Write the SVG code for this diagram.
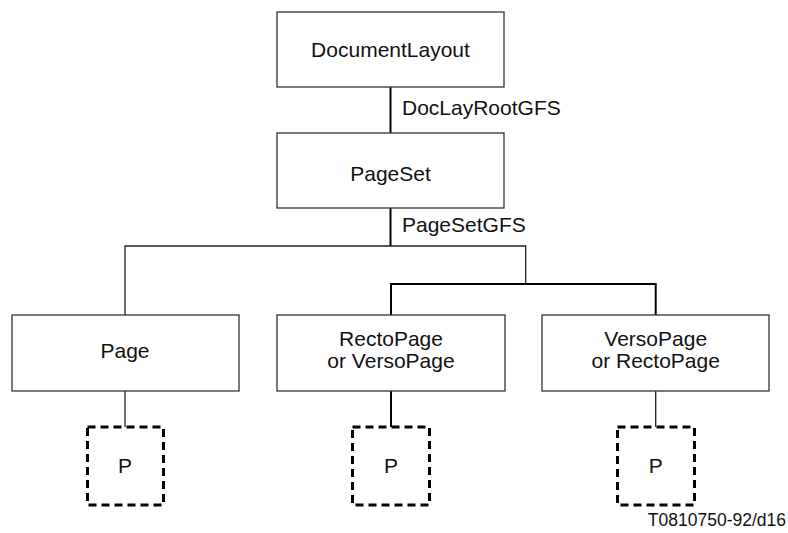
<svg xmlns="http://www.w3.org/2000/svg" width="788" height="533" viewBox="0 0 788 533">
<style>
.box{fill:#fff;stroke:#333;stroke-width:1.3}
.pbox{fill:#fff;stroke:#000;stroke-width:3;stroke-dasharray:8 5}
.t{font-family:"Liberation Sans",Arial,sans-serif;font-size:21px;fill:#111;text-anchor:middle}
.l{font-family:"Liberation Sans",Arial,sans-serif;font-size:21px;fill:#111}
.thin{stroke:#222;stroke-width:1.3;fill:none}
.thick{stroke:#000;stroke-width:2;fill:none}
</style>
<rect width="788" height="533" fill="#fff"/>
<g id="connectors">
<line class="thick" x1="390.5" y1="87" x2="390.5" y2="133"/>
<line class="thick" x1="390.5" y1="208" x2="390.5" y2="246"/>
<polyline class="thin" points="125,315 125,246 525.7,246 525.7,284"/>
<polyline class="thick" points="391,315 391,284 655.7,284 655.7,315"/>
<line class="thin" x1="125" y1="391" x2="125" y2="427"/>
<line class="thick" x1="391" y1="391" x2="391" y2="427"/>
<line class="thin" x1="655.7" y1="391" x2="655.7" y2="427"/>
<text class="l" x="402" y="115">DocLayRootGFS</text>
<text class="l" x="402" y="232">PageSetGFS</text>
</g>
<g id="documentlayout">
<rect class="box" x="277" y="12" width="227" height="75"/>
<text class="t" x="390.5" y="57">DocumentLayout</text>
</g>
<g id="pageset">
<rect class="box" x="277" y="133" width="227" height="75"/>
<text class="t" x="390.5" y="181">PageSet</text>
</g>
<g id="page">
<rect class="box" x="12" y="315" width="227" height="76"/>
<text class="t" x="125" y="358">Page</text>
</g>
<g id="rectopage">
<rect class="box" x="277" y="315" width="228" height="76"/>
<text class="t" x="391" y="346">RectoPage</text>
<text class="t" x="391" y="368">or VersoPage</text>
</g>
<g id="versopage">
<rect class="box" x="542" y="315" width="227" height="76"/>
<text class="t" x="655.7" y="346">VersoPage</text>
<text class="t" x="655.7" y="368">or RectoPage</text>
</g>
<g id="p1">
<rect class="pbox" x="87.5" y="427" width="76" height="78"/>
<text class="t" x="125" y="473">P</text>
</g>
<g id="p2">
<rect class="pbox" x="352.5" y="427" width="77" height="78"/>
<text class="t" x="391" y="473">P</text>
</g>
<g id="p3">
<rect class="pbox" x="617.5" y="427" width="77" height="78"/>
<text class="t" x="655.7" y="473">P</text>
</g>
<text x="786" y="526" font-family="Liberation Sans, Arial, sans-serif" font-size="17.5" fill="#111" text-anchor="end">T0810750-92/d16</text>
</svg>
